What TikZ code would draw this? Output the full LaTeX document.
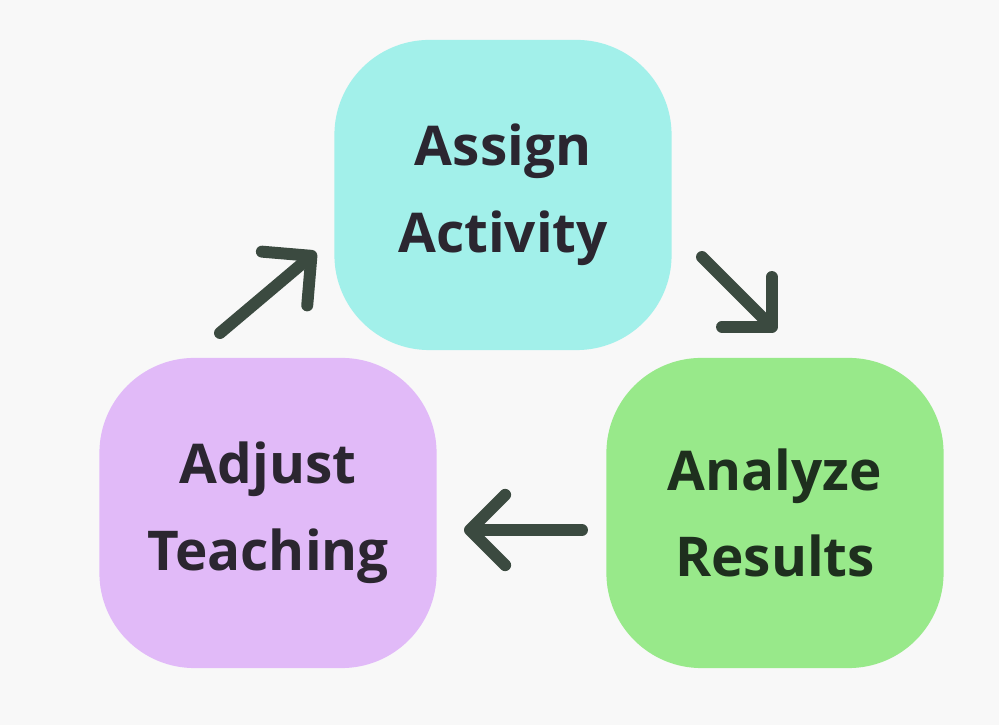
\documentclass[tikz,border=0pt]{standalone}
\usepackage{fontspec}
\setmainfont{Open Sans}
\usetikzlibrary{arrows.meta}
\definecolor{bgcol}{HTML}{F8F8F8}
\definecolor{assigncol}{HTML}{A2F0EA}
\definecolor{adjustcol}{HTML}{E1BAF8}
\definecolor{analyzecol}{HTML}{98E98A}
\definecolor{arrowcol}{HTML}{3B4A40}
\definecolor{txtcol}{HTML}{2B2630}
\definecolor{greentxt}{HTML}{1E2F1E}
\begin{document}
\begin{tikzpicture}[x=0.01cm, y=-0.01cm,
  stage/.style = {rounded corners=0.95cm, minimum width=3.37cm,
    minimum height=3.1cm, align=center, text=txtcol,
    font=\fontsize{15.6}{24.7}\selectfont\bfseries},
  flow/.style = {arrowcol, line width=3.4pt, line cap=round,
    -{Straight Barb[length=10pt, width=20pt, round]}}]
  \useasboundingbox[fill=bgcol] (0,0) rectangle (999,725);
  \node[stage, fill=assigncol] (assign) at (503,195) {Assign\\Activity};
  \node[stage, fill=adjustcol] (adjust) at (268,513) {Adjust\\Teaching};
  \node[stage, fill=analyzecol, text=greentxt] (analyze) at (775,513) {Analyze\\Results};
  % connectors
  \coordinate (a1) at (220,333);
  \coordinate (a2) at (316,252);
  \coordinate (b1) at (702,257);
  \coordinate (b2) at (776,331);
  \coordinate (c1) at (582,530);
  \coordinate (c2) at (464,530);
  \draw[flow] (a1) -- (a2);
  \draw[flow] (b1) -- (b2);
  \draw[flow] (c1) -- (c2);
\end{tikzpicture}
\end{document}
